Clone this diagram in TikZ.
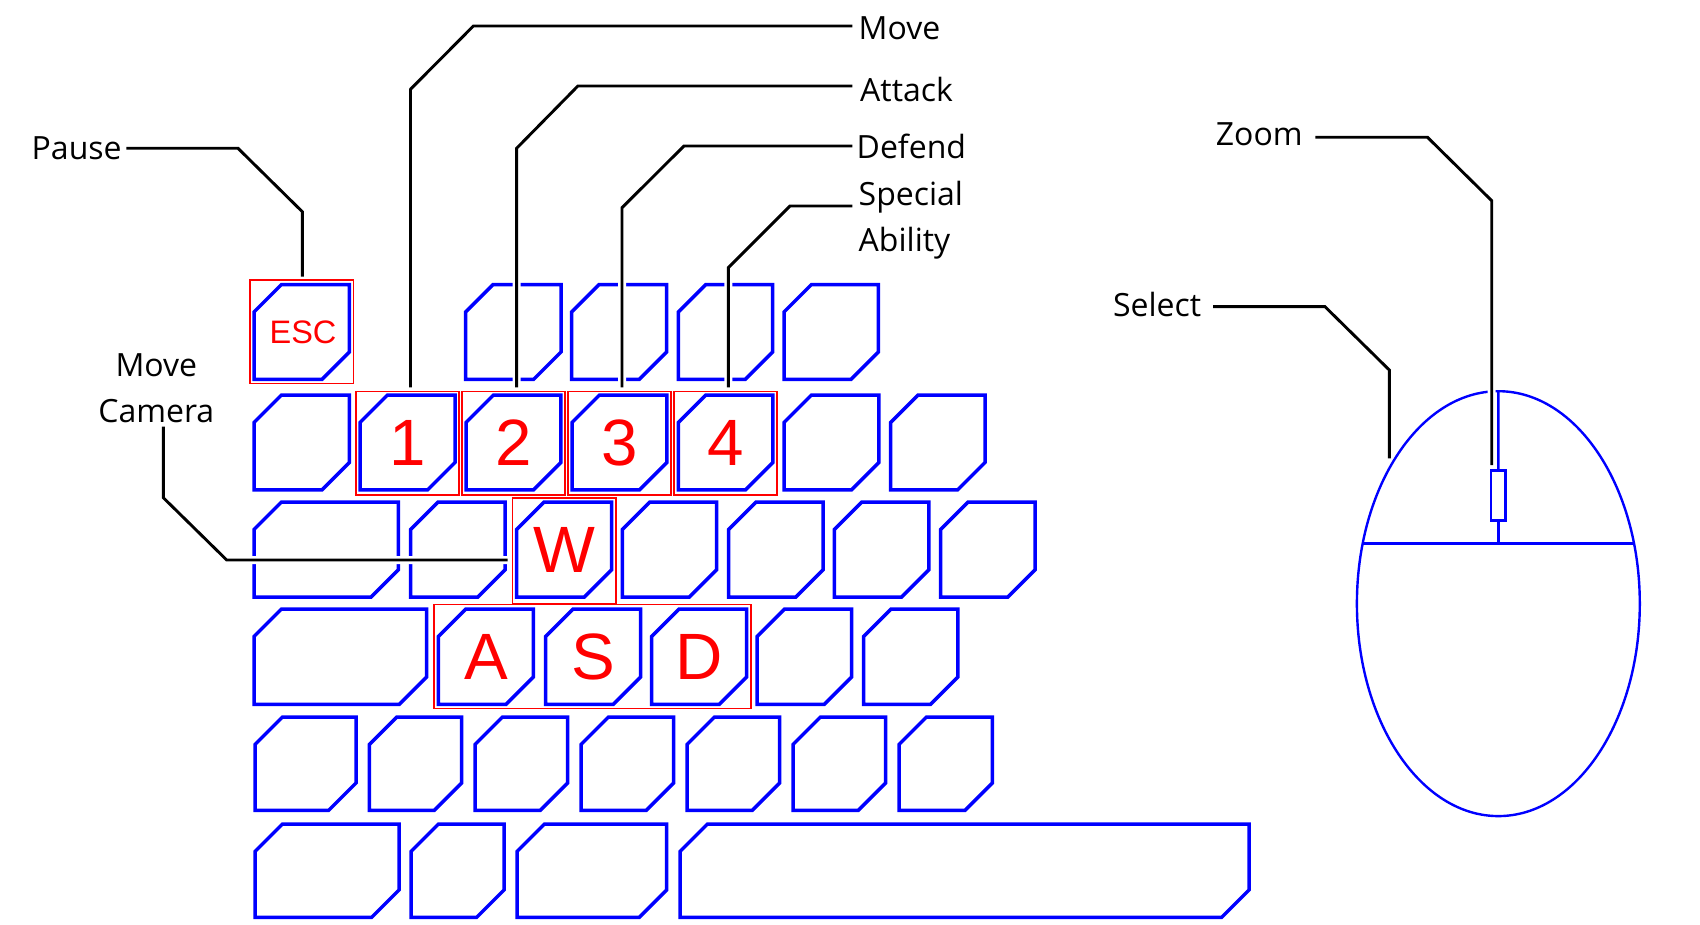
\documentclass[tikz,border=0pt]{standalone}
\usepackage{fontspec}
\setmainfont{Open Sans}
\newfontfamily\keyfont{Liberation Sans}
\usetikzlibrary{shapes.geometric}
\definecolor{kblue}{RGB}{0,0,255}
\definecolor{kred}{RGB}{255,0,0}
\newcommand\kbkey[4]{\draw[keyline] ({#1+1.7},{#2+29}) -- ({#1+29},{#2+1.7}) -- ({#3-1.7},{#2+1.7}) -- ({#3-1.7},{#4-29}) -- ({#3-29},{#4-1.7}) -- ({#1+1.7},{#4-1.7}) -- cycle;}
\begin{document}
\begin{tikzpicture}[x=1pt,y=-1pt,
  keyline/.style={draw=kblue, line width=3.5pt},
  hl/.style={draw=kred, line width=1.3pt},
  leader/.style={draw=black, line width=2.9pt, preaction={draw=white, line width=8pt}},
  lbl/.style={inner sep=0pt, font=\fontsize{32}{46.5}\selectfont},
  keylbl/.style={inner sep=0pt, text=kred, font=\keyfont\fontsize{65.5}{70}\selectfont},
  mline/.style={draw=kblue, line width=2.4pt}]
\useasboundingbox[fill=white] (0,0) rectangle (1700,925);

% row 1
\kbkey{252.3}{283}{351}{381}
\kbkey{464}{283}{562.7}{381}
\kbkey{570}{283}{668.3}{381}
\kbkey{676.7}{283}{774.3}{381}
\kbkey{782.3}{283}{880}{381}
% row 2
\kbkey{252.3}{393.5}{351}{491.5}
\kbkey{358.3}{393.5}{456.7}{491.5}
\kbkey{464.3}{393.5}{562.5}{491.5}
\kbkey{570.3}{393.5}{668.5}{491.5}
\kbkey{676.7}{393.5}{774.5}{491.5}
\kbkey{782.3}{393.5}{880.5}{491.5}
\kbkey{889}{393.5}{986.7}{491.5}
% row 3
\kbkey{252.3}{500.5}{400}{598.8}
\kbkey{409}{500.5}{506.7}{598.8}
\kbkey{515}{500.5}{613.3}{598.8}
\kbkey{620.7}{500.5}{718.3}{598.8}
\kbkey{727}{500.5}{824.8}{598.8}
\kbkey{832.7}{500.5}{930.5}{598.8}
\kbkey{939}{500.5}{1036.8}{598.8}
% row 4
\kbkey{252.3}{607.5}{428.3}{706}
\kbkey{436.7}{607.5}{535}{706}
\kbkey{544}{607.5}{642.3}{706}
\kbkey{650}{607.5}{748.3}{706}
\kbkey{755.5}{607.5}{853.3}{706}
\kbkey{862}{607.5}{959.5}{706}
% row 5
\kbkey{253.3}{715.5}{357.7}{812}
\kbkey{367.7}{715.5}{463.3}{812}
\kbkey{473.3}{715.5}{569.3}{812}
\kbkey{579.3}{715.5}{675.3}{812}
\kbkey{685.3}{715.5}{781.3}{812}
\kbkey{791.3}{715.5}{887.3}{812}
\kbkey{897.3}{715.5}{994}{812}
% row 6
\kbkey{253.3}{822.5}{400.7}{919}
\kbkey{409.3}{822.5}{505.7}{919}
\kbkey{515.3}{822.5}{668.3}{919}
\kbkey{678.3}{822.5}{1250.7}{919}

% highlight boxes
\draw[hl] (250,280) rectangle (353.6,383.6);
\draw[hl] (356,391.3) rectangle (459,494.9);
\draw[hl] (462.1,391.3) rectangle (565.1,494.9);
\draw[hl] (568,391.3) rectangle (671,494.9);
\draw[hl] (674,391.3) rectangle (777,494.9);
\draw[hl] (512.3,498) rectangle (616,603.4);
\draw[hl] (434,604.6) rectangle (751,708.7);

% key labels
\node[keylbl, font=\keyfont\fontsize{32.5}{36}\selectfont] (kesc) at (303,332) {ESC};
\node[keylbl] (k1) at (407.5,442.5) {1};
\node[keylbl] (k2) at (513.4,442.5) {2};
\node[keylbl] (k3) at (619.4,442.5) {3};
\node[keylbl] (k4) at (725.6,442.5) {4};
\node[keylbl] (kw) at (564.2,549.6) {W};
\node[keylbl] (ka) at (485.9,656.8) {A};
\node[keylbl] (ks) at (593.2,656.8) {S};
\node[keylbl] (kd) at (699.2,656.8) {D};

% mouse
\node[ellipse, draw=kblue, line width=2.4pt, outer sep=0pt, inner sep=0pt, minimum width=282.9pt, minimum height=424.9pt] (mouse) at (1498.35,603.65) {};
\node[draw=kblue, line width=2.4pt, outer sep=0pt, inner sep=0pt, minimum width=14.5pt, minimum height=50pt] (wheel) at (1498.3,495.5) {};
\coordinate (split) at (1498.3,543.3);
\draw[mline] (mouse.north) -- (wheel.north);
\draw[mline] (wheel.south) -- (split);
\draw[mline] (1362.4,543.3) -- (1634.2,543.3);

% labels
\node[lbl, anchor=base west] (pause) at (31.5,159.3) {Pause};
\node[lbl, anchor=base west] (move) at (858.5,40) {Move};
\node[lbl, anchor=base west] (attack) at (860,101.7) {Attack};
\node[lbl, anchor=base west] (defend) at (856.5,159) {Defend};
\node[lbl, anchor=base west, align=left] (special) at (858.5,251.7) {Special\\Ability};
\node[lbl, anchor=base, align=center] (camera) at (156.3,422.7) {Move\\Camera};
\node[lbl, anchor=base west] (zoom) at (1215.7,145.7) {Zoom};
\node[lbl, anchor=base west] (select) at (1112.8,316.7) {Select};

% leader end points
\coordinate (pauseA) at (126.3,148.3);  \coordinate (pauseB) at (302.3,276.7);
\coordinate (moveA) at (852.3,26);      \coordinate (moveB) at (410.5,387.3);
\coordinate (attackA) at (852.3,86);    \coordinate (attackB) at (516.6,387.3);
\coordinate (defendA) at (852.3,146);   \coordinate (defendB) at (622,387.3);
\coordinate (specialA) at (852.3,206);  \coordinate (specialB) at (728.3,387.3);
\coordinate (cameraA) at (163.3,426.7); \coordinate (cameraB) at (507.7,560);
\coordinate (zoomA) at (1315.4,137.3);  \coordinate (zoomB) at (1491.7,465);
\coordinate (selectA) at (1213.2,306.7);\coordinate (selectB) at (1389.3,458.3);

% leaders
\draw[leader] (pauseA) -- (238,148.3) -- (302.3,211.7) -- (pauseB);
\draw[leader] (moveA) -- (473.4,26) -- (410.5,89.3) -- (moveB);
\draw[leader] (attackA) -- (577.9,86) -- (516.6,148.3) -- (attackB);
\draw[leader] (defendA) -- (684,146) -- (622,207.7) -- (defendB);
\draw[leader] (specialA) -- (790,206) -- (728.3,267.7) -- (specialB);
\draw[leader] (cameraA) -- (163.3,497.7) -- (226.7,560) -- (cameraB);
\draw[leader] (zoomA) -- (1427.5,137.3) -- (1491.7,200.7) -- (zoomB);
\draw[leader] (selectA) -- (1325,306.7) -- (1389.3,370) -- (selectB);
\end{tikzpicture}
\end{document}
